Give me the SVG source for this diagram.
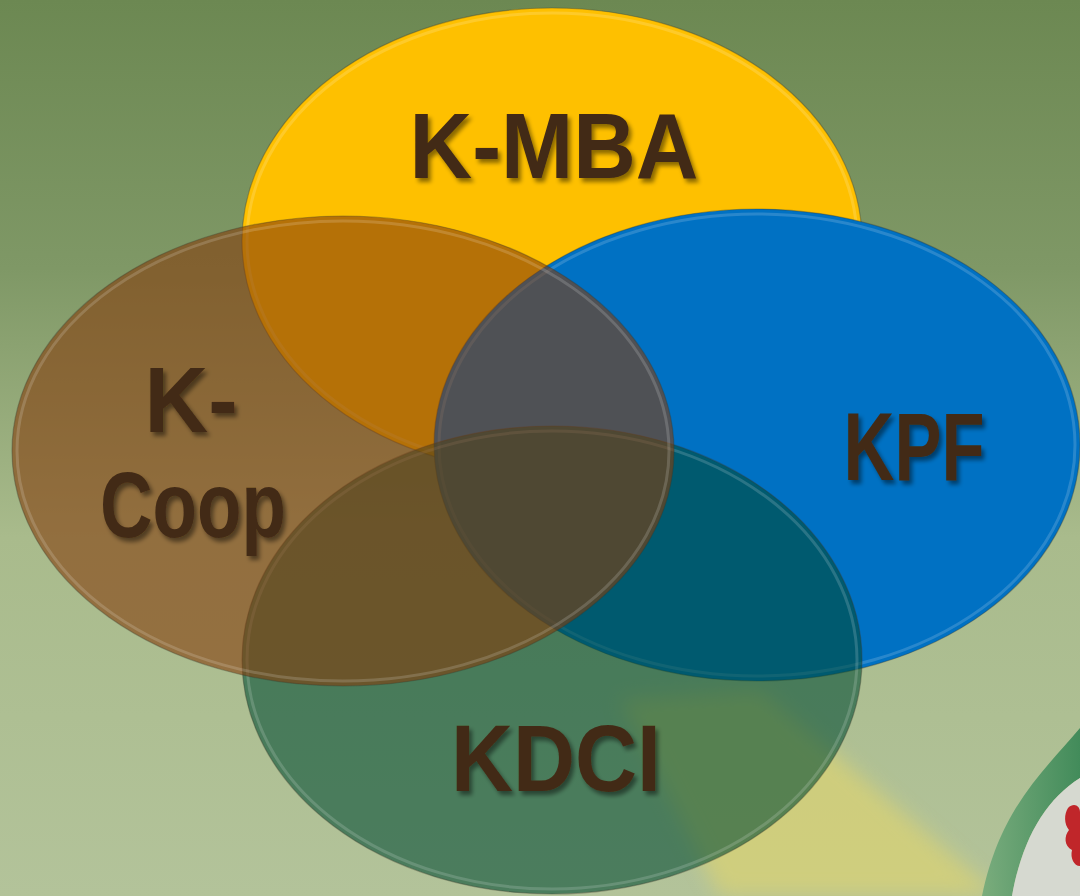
<svg xmlns="http://www.w3.org/2000/svg" width="1080" height="896" viewBox="0 0 1080 896">
  <defs>
    <linearGradient id="bg" x1="0" y1="0" x2="0" y2="1">
      <stop offset="0" stop-color="#6C8852"/>
      <stop offset="0.3" stop-color="#7F9866"/>
      <stop offset="0.6" stop-color="#A9BB8C"/>
      <stop offset="1" stop-color="#B3C39A"/>
    </linearGradient>
    <linearGradient id="band" x1="0" y1="0" x2="1" y2="0">
      <stop offset="0" stop-color="#6FA878"/>
      <stop offset="1" stop-color="#2F8250"/>
    </linearGradient>
    <filter id="blur" x="-20%" y="-20%" width="140%" height="140%">
      <feGaussianBlur stdDeviation="10"/>
    </filter>
    <filter id="shadow" x="-10%" y="-10%" width="130%" height="140%">
      <feDropShadow dx="3" dy="4" stdDeviation="2" flood-color="#000" flood-opacity="0.45"/>
    </filter>
    <style>
      .rim { fill: none; stroke: #ffffff; stroke-opacity: 0.16; stroke-width: 3; }
      .edge { stroke: #3a3a2a; stroke-opacity: 0.35; stroke-width: 1.2; }
      .lbl { font-family: "Liberation Sans", "DejaVu Sans", sans-serif; font-weight: bold; fill: #432B15; text-anchor: middle; filter: url(#shadow); }
    </style>
  </defs>

  <rect x="0" y="0" width="1080" height="896" fill="url(#bg)"/>

  <!-- background decoration bottom right -->
  <g id="decor">
    <polygon points="620,700 760,690 1000,896 720,896" fill="#D9D274" opacity="0.75" filter="url(#blur)"/>
    <path d="M1080,728 C1040,775 1000,810 982,896 L1012,896 C1022,840 1045,800 1080,778 Z" fill="url(#band)" opacity="0.85"/>
    <path d="M1080,778 C1045,800 1022,840 1012,896 L1080,896 Z" fill="#D6D9D0"/>
    <path d="M1068,808 C1074,802 1080,806 1080,812 L1080,866 C1074,866 1070,858 1072,850 C1064,846 1064,836 1069,830 C1064,824 1064,814 1068,808 Z" fill="#C0262A"/>
  </g>

  <g id="node-kmba">
    <ellipse cx="552" cy="241" rx="310" ry="233" fill="#FEC000" class="edge"/>
    <ellipse cx="552" cy="241" rx="305" ry="228" class="rim"/>
  </g>
  <g id="node-kpf">
    <ellipse cx="757" cy="445" rx="323" ry="236" fill="#0071C3" class="edge"/>
    <ellipse cx="757" cy="445" rx="318" ry="231" class="rim"/>
  </g>
  <g id="node-kdci">
    <ellipse cx="552" cy="660" rx="310" ry="234" fill="#004A32" fill-opacity="0.58" class="edge"/>
    <ellipse cx="552" cy="660" rx="305" ry="229" class="rim"/>
  </g>
  <g id="node-kcoop">
    <ellipse cx="343" cy="451" rx="331" ry="235" fill="#843C0C" fill-opacity="0.6" class="edge"/>
    <ellipse cx="343" cy="451" rx="326" ry="230" class="rim"/>
  </g>

  <g id="connectors"></g>

  <g id="labels">
    <text class="lbl" x="554" y="178" font-size="92" textLength="289" lengthAdjust="spacingAndGlyphs">K-MBA</text>
    <text class="lbl" x="191" y="432" font-size="92" textLength="93" lengthAdjust="spacingAndGlyphs">K-</text>
    <text class="lbl" x="193" y="537" font-size="92" textLength="186" lengthAdjust="spacingAndGlyphs">Coop</text>
    <text class="lbl" x="914" y="480" font-size="96" textLength="141" lengthAdjust="spacingAndGlyphs">KPF</text>
    <text class="lbl" x="556" y="791" font-size="94" textLength="210" lengthAdjust="spacingAndGlyphs">KDCI</text>
  </g>
</svg>
